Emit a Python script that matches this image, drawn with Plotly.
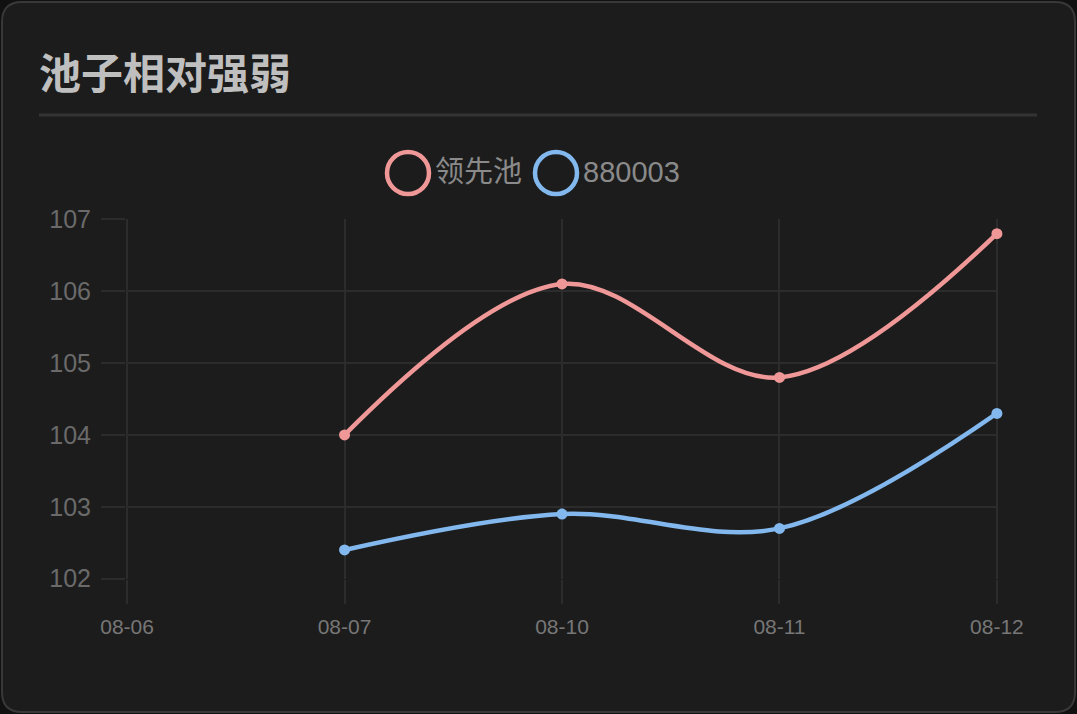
import plotly.graph_objects as go

# ---- data ----
categories = ["08-06", "08-07", "08-10", "08-11", "08-12"]
lead_pool = [None, 104.0, 106.1, 104.8, 106.8]
idx_880003 = [None, 102.4, 102.9, 102.7, 104.3]
series_names = ["领先池", "880003"]
series_colors = ["#f09898", "#82b8ee"]
y_ticks = [102, 103, 104, 105, 106, 107]
title_text = "池子相对强弱"

# ---- layout geometry (pixels) ----
W, H = 1077, 714
L, R, T, B = 126, 998, 219, 579


def px(x):
    return (x - L) / (R - L)


def py(y):
    return (B - y) / (B - T)


def pt(x, y):
    return f"{px(x):.5f},{py(y):.5f}"


x0, y0, x1, y1, r = 2, 2, 1075, 712, 20
card_path = (
    f"M {pt(x0 + r, y0)} L {pt(x1 - r, y0)} Q {pt(x1, y0)} {pt(x1, y0 + r)} "
    f"L {pt(x1, y1 - r)} Q {pt(x1, y1)} {pt(x1 - r, y1)} "
    f"L {pt(x0 + r, y1)} Q {pt(x0, y1)} {pt(x0, y1 - r)} "
    f"L {pt(x0, y0 + r)} Q {pt(x0, y0)} {pt(x0 + r, y0)} Z"
)

fig = go.Figure()
for name, vals, col in zip(series_names, [lead_pool, idx_880003], series_colors):
    fig.add_trace(go.Scatter(
        x=categories, y=vals, name=name, mode="lines+markers",
        line=dict(color=col, width=4.5, shape="spline", smoothing=1.0),
        marker=dict(color=col, size=11),
        showlegend=False, cliponaxis=False,
    ))

grid = "#2c2c2c"
shapes = [
    dict(type="path", path=card_path, xref="paper", yref="paper",
         fillcolor="#1c1c1c", line=dict(color="#383838", width=2), layer="below"),
    dict(type="line", xref="paper", yref="paper", x0=px(39), x1=px(1037),
         y0=py(115), y1=py(115), line=dict(color="#333333", width=3), layer="below"),
]
annotations = [
    dict(text=f"<b>{title_text}</b>", xref="paper", yref="paper", x=px(37), y=py(71),
         xanchor="left", yanchor="middle", showarrow=False,
         font=dict(family="Noto Sans CJK SC", size=42, color="#bfbfbf")),
]
leg_centers = [408, 556]
for name, col, cx in zip(series_names, series_colors, leg_centers):
    cy, rad = 173, 21
    shapes.append(dict(type="circle", xref="paper", yref="paper",
                       x0=px(cx - rad), x1=px(cx + rad), y0=py(cy + rad), y1=py(cy - rad),
                       line=dict(color=col, width=4.5), fillcolor="rgba(0,0,0,0)"))
    annotations.append(dict(text=name, xref="paper", yref="paper", x=px(cx + 25), y=py(172),
                            xanchor="left", yanchor="middle", showarrow=False,
                            font=dict(family="Liberation Sans, Noto Sans CJK SC", size=29,
                                      color="#8a8a8a")))

fig.update_layout(
    width=W, height=H,
    margin=dict(l=L, r=W - R, t=T, b=H - B, pad=0),
    paper_bgcolor="#111111",
    plot_bgcolor="rgba(0,0,0,0)",
    shapes=shapes,
    annotations=annotations,
    showlegend=False,
    xaxis=dict(type="category", categoryorder="array", categoryarray=categories,
               range=[-0.005, 4.005], showgrid=True, gridcolor=grid, gridwidth=2,
               ticks="outside", ticklen=24, tickcolor=grid, tickwidth=2,
               zeroline=False, showline=False,
               tickfont=dict(family="Liberation Sans", size=21, color="#777777"),
               ticklabelstandoff=5),
    yaxis=dict(range=[101.996, 107.004], tickvals=y_ticks, showgrid=True, gridcolor=grid,
               gridwidth=2, ticks="outside", ticklen=24, tickcolor=grid, tickwidth=2,
               zeroline=False, showline=False,
               tickfont=dict(family="Liberation Sans", size=25, color="#6a6a6a"),
               ticklabelstandoff=5),
)

fig.write_html("out.html", config={"displayModeBar": False},
               post_script="document.body.style.margin='0';document.body.style.background='#111111';")
